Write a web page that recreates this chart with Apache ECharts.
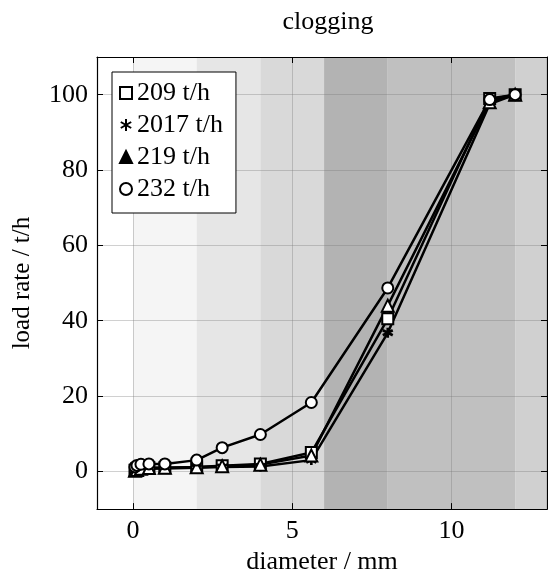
<!DOCTYPE html>
<html>
<head>
<meta charset="utf-8">
<script src="https://cdn.jsdelivr.net/npm/echarts@6/dist/echarts.min.js"></script>
<style>
  html, body { margin: 0; padding: 0; background: #fff; }
  #chart { width: 548px; height: 580px; }
</style>
</head>
<body>
<div id="chart"></div>
<script>
// sieve diameters (mm)
const diameters = [0.063, 0.125, 0.25, 0.5, 1, 2, 2.8, 4, 5.6, 8, 11.2, 12];
const seriesNames = ["209 t/h", "2017 t/h", "219 t/h", "232 t/h"];
const rate209 = [0.3, 0.6, 0.9, 1.0, 1.0, 1.2, 1.5, 2.0, 5.0, 40.5, 99.0, 100];
const rate2017 = [0.1, 0.3, 0.5, 0.7, 0.8, 1.0, 1.2, 1.3, 3.0, 36.8, 97.5, 100];
const rate219 = [0.2, 0.4, 0.7, 0.9, 1.0, 1.1, 1.4, 1.8, 4.2, 44.0, 98.0, 100];
const rate232 = [1.2, 1.6, 1.9, 2.0, 2.0, 3.0, 6.3, 9.8, 18.3, 48.7, 98.7, 100];
const xTicks = [0, 5, 10];
const yTicks = [0, 20, 40, 60, 80, 100];
// background bands (mm)
const bandEdges = [0, 2, 4, 6, 8, 12, 13];
const bandColors = ["#f5f5f5", "#e6e6e6", "#d9d9d9", "#b3b3b3", "#c0c0c0", "#d0d0d0"];

const FONT = "'Liberation Serif', 'Times New Roman', serif";
const FS = 26;
const asterisk = "path://M0,-10L0,10M-8.66,-5L8.66,5M-8.66,5L8.66,-5";

function pairs(xs, ys) {
  return xs.map((x, i) => [x, ys[i]]);
}

const chart = echarts.init(document.getElementById("chart"));

let bands = [];
for (let i = 0; i < bandColors.length; i++) {
  bands.push([
    { xAxis: bandEdges[i], itemStyle: { color: bandColors[i] } },
    { xAxis: bandEdges[i + 1] }
  ]);
}

function lineSeries(name, ys, symbol, size) {
  return {
    name: name,
    type: "line",
    z: 3,
    data: pairs(diameters, ys),
    symbol: symbol,
    symbolSize: size,
    showAllSymbol: true,
    lineStyle: { color: "#000", width: 2.5 },
    itemStyle: { color: "#000", borderColor: "#000", borderWidth: 2.6 },
    emphasis: { disabled: true },
    animation: false
  };
}

const tickStyle = { show: true, inside: true, length: 6, lineStyle: { color: "#000", width: 1 } };
const gridLine = { show: true, lineStyle: { color: "rgba(120,120,120,0.35)", width: 1 } };

const option = {
  animation: false,
  title: {
    text: "clogging",
    left: 323,
    top: 4,
    textAlign: "center",
    textStyle: { fontFamily: FONT, fontSize: FS, fontWeight: "normal", color: "#000" }
  },
  legend: {
    orient: "vertical",
    left: 112,
    top: 72,
    padding: [8, 13, 11, 7],
    itemGap: 6,
    itemWidth: 12,
    itemHeight: 12,
    backgroundColor: "#fff",
    borderColor: "#000",
    borderWidth: 1,
    borderRadius: 0,
    textStyle: { fontFamily: FONT, fontSize: FS, lineHeight: 26, color: "#000" },
    data: [
      { name: seriesNames[0], icon: "emptyRect" },
      { name: seriesNames[1], icon: asterisk },
      { name: seriesNames[2], icon: "triangle" },
      { name: seriesNames[3], icon: "emptyCircle" }
    ]
  },
  grid: { left: 97, right: 1, top: 57, bottom: 69 },
  xAxis: [
    {
      type: "value",
      min: -1.13,
      max: 13.0,
      z: 2,
      name: "diameter / mm",
      nameLocation: "middle",
      nameGap: 37,
      nameTextStyle: { fontFamily: FONT, fontSize: FS, color: "#000" },
      axisLine: { show: true, onZero: false, lineStyle: { color: "#000", width: 1.2 } },
      axisTick: Object.assign({ customValues: xTicks }, tickStyle),
      axisLabel: { customValues: xTicks, fontFamily: FONT, fontSize: FS, color: "#000", margin: 9 },
      splitLine: gridLine
    },
    {
      type: "value",
      position: "top",
      min: -1.13,
      max: 13.0,
      z: 2,
      axisLine: { show: true, onZero: false, lineStyle: { color: "#000", width: 1.2 } },
      axisTick: Object.assign({ customValues: xTicks }, tickStyle),
      axisLabel: { show: false },
      splitLine: { show: false }
    }
  ],
  yAxis: [
    {
      type: "value",
      min: -10,
      max: 110,
      z: 2,
      name: "load rate / t/h",
      nameLocation: "middle",
      nameGap: 62,
      nameTextStyle: { fontFamily: FONT, fontSize: 25, color: "#000" },
      axisLine: { show: true, onZero: false, lineStyle: { color: "#000", width: 1.2 } },
      axisTick: Object.assign({ customValues: yTicks }, tickStyle),
      axisLabel: { customValues: yTicks, fontFamily: FONT, fontSize: FS, color: "#000", margin: 9 },
      splitLine: gridLine
    },
    {
      type: "value",
      position: "right",
      min: -10,
      max: 110,
      z: 2,
      axisLine: { show: true, onZero: false, lineStyle: { color: "#000", width: 1.2 } },
      axisTick: Object.assign({ customValues: yTicks }, tickStyle),
      axisLabel: { show: false },
      splitLine: { show: false }
    }
  ],
  series: [
    {
      name: "bands",
      type: "line",
      z: 0,
      data: [],
      silent: true,
      markArea: { silent: true, data: bands }
    },
    lineSeries(seriesNames[0], rate209, "emptyRect", 11),
    lineSeries(seriesNames[1], rate2017, asterisk, 10),
    lineSeries(seriesNames[2], rate219, "emptyTriangle", 12),
    lineSeries(seriesNames[3], rate232, "emptyCircle", 11)
  ]
};

chart.setOption(option);
</script>
</body>
</html>
